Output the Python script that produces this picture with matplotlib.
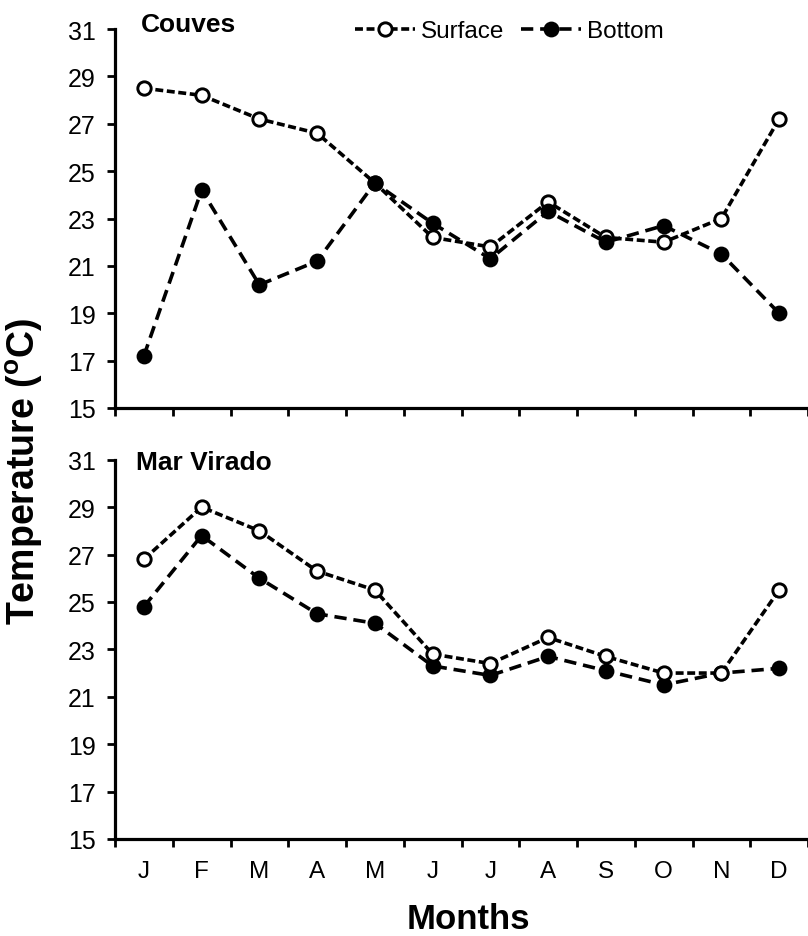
import matplotlib
matplotlib.use("Agg")
import matplotlib.pyplot as plt
from matplotlib import font_manager
from matplotlib.lines import Line2D

months = ["J", "F", "M", "A", "M", "J", "J", "A", "S", "O", "N", "D"]
yticks = [15, 17, 19, 21, 23, 25, 27, 29, 31]

couves_surface = [28.5, 28.2, 27.2, 26.6, 24.5, 22.2, 21.8, 23.7, 22.2, 22.0, 23.0, 27.2]
couves_bottom = [17.2, 24.2, 20.2, 21.2, 24.5, 22.8, 21.3, 23.3, 22.0, 22.7, 21.5, 19.0]
marvirado_surface = [26.8, 29.0, 28.0, 26.3, 25.5, 22.8, 22.4, 23.5, 22.7, 22.0, 22.0, 25.5]
marvirado_bottom = [24.8, 27.8, 26.0, 24.5, 24.1, 22.3, 21.9, 22.7, 22.1, 21.5, 22.0, 22.2]

names = {f.name for f in font_manager.fontManager.ttflist}
FONT = "Liberation Sans" if "Liberation Sans" in names else "DejaVu Sans"

plt.rcParams["font.family"] = [FONT, "DejaVu Sans"]
plt.rcParams["mathtext.default"] = "regular"

W, H = 808, 937
fig = plt.figure(figsize=(W / 100, H / 100), dpi=100)

left = 115 / W
width = 1 - left
ax1 = fig.add_axes([left, 1 - 409 / H, width, (409 - 30) / H])
ax2 = fig.add_axes([left, 1 - 840 / H, width, (840 - 460.7) / H])

x = list(range(len(months)))
LW = 2.6
MS = 9.6
surf_dash = (2.2, 1.0)
bot_dash = (3.4, 1.9)


def draw(ax, surf, bot, bottom_on_top):
    zs, zb = (3, 4) if bottom_on_top else (4, 3)
    ax.plot(x, surf, color="black", lw=LW, dashes=surf_dash, marker="o", ms=MS,
            mfc="white", mec="black", mew=2.1, zorder=zs, label="Surface")
    ax.plot(x, bot, color="black", lw=LW, dashes=bot_dash, marker="o", ms=MS + 0.3,
            mfc="black", mec="black", mew=1.5, zorder=zb, label="Bottom")
    ax.set_xlim(-0.5, 11.5)
    ax.set_ylim(15, 31)
    ax.set_yticks(yticks)
    ax.set_yticklabels([str(t) for t in yticks], fontsize=18)
    ax.set_xticks(x)
    ax.set_xticks([i - 0.5 for i in range(13)], minor=True)
    ax.tick_params(axis="y", direction="out", length=6, width=2, pad=8)
    ax.tick_params(axis="x", which="major", length=0, pad=15)
    ax.tick_params(axis="x", which="minor", direction="out", length=5.5, width=2)
    for s in ["top", "right"]:
        ax.spines[s].set_visible(False)
    for s in ["left", "bottom"]:
        ax.spines[s].set_linewidth(2.3)
    ax.patch.set_alpha(0)


draw(ax1, couves_surface, couves_bottom, True)
draw(ax2, marvirado_surface, marvirado_bottom, False)

ax1.set_xticklabels([])
ax2.set_xticklabels(months, fontsize=17.5)

ax1.text(141 / W, 1 - 25 / H, "Couves", transform=fig.transFigure, fontsize=19,
         fontweight="bold", ha="left", va="center")
ax2.text(136 / W, 1 - 463 / H, "Mar Virado", transform=fig.transFigure, fontsize=19,
         fontweight="bold", ha="left", va="center")

handles = [
    Line2D([], [], color="black", lw=LW, dashes=surf_dash, marker="o", ms=MS,
           mfc="white", mec="black", mew=2.1),
    Line2D([], [], color="black", lw=LW, dashes=bot_dash, marker="o", ms=MS + 0.3,
           mfc="black", mec="black", mew=1.5),
]
fig.legend(handles, ["Surface", "Bottom"], loc="center left",
           bbox_to_anchor=(355 / W, 1 - 32 / H), ncol=2, frameon=False,
           fontsize=17.5, handlelength=2.45, handletextpad=0.25, columnspacing=0.7,
           borderpad=0, borderaxespad=0, numpoints=1)

fig.text(468 / W, 1 - 920 / H, "Months", fontsize=25, fontweight="bold",
         ha="center", va="center")

fig.text(24 / W, 1 - 471 / H, "Temperature ($^{o}$C)", fontsize=27, fontweight="bold",
         rotation=90, ha="center", va="center")

fig.savefig("out.png", dpi=100)
